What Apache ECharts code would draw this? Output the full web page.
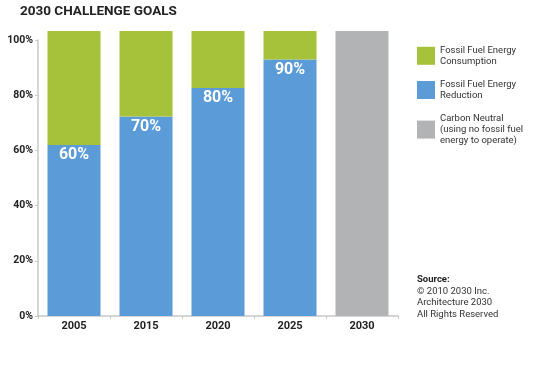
<!DOCTYPE html>
<html>
<head>
<meta charset="utf-8">
<script src="https://cdn.jsdelivr.net/npm/echarts@6/dist/echarts.min.js"></script>
<style>html,body{margin:0;padding:0;background:#fff;}#chart{width:540px;height:366px;}</style>
</head>
<body>
<div id="chart"></div>
<script>
const categories = ['2005', '2015', '2020', '2025', '2030'];
const reduction = [60, 70, 80, 90, null];
const consumption = [40, 30, 20, 10, null];
const carbonNeutral = [null, null, null, null, 100];
const yTicks = [0, 20, 40, 60, 80, 100];
const seriesNames = ['Fossil Fuel Energy\nConsumption', 'Fossil Fuel Energy\nReduction', 'Carbon Neutral\n(using no fossil fuel\nenergy to operate)'];
const sourceLines = ['Source:', '© 2010 2030 Inc.', 'Architecture 2030', 'All Rights Reserved'];

const FONT = 'Roboto';
const chart = echarts.init(document.getElementById('chart'), null, {renderer: 'canvas'});
chart.setOption({
  animation: false,
  backgroundColor: '#fff',
  title: {
    text: '2030 CHALLENGE GOALS',
    left: 15, top: 0,
    textStyle: {fontFamily: FONT, fontWeight: 'bold', fontSize: 13.5, color: '#222'}
  },
  legend: {
    orient: 'vertical',
    left: 412, top: 40,
    itemWidth: 18, itemHeight: 18, itemGap: 12.6,
    icon: 'rect',
    selectedMode: false,
    data: seriesNames,
    textStyle: {fontFamily: FONT, fontSize: 9.5, lineHeight: 10.8, color: '#333'}
  },
  grid: [
    {left: 38, right: 142, top: 31, bottom: 50},
    {left: 38, right: 142, top: 40, bottom: 50}
  ],
  xAxis: [
    {
      type: 'category', gridIndex: 0, data: categories,
      axisLine: {lineStyle: {color: '#c8c8c8', width: 1.5}},
      axisTick: {show: true, length: 3, lineStyle: {color: '#c8c8c8'}},
      axisLabel: {fontFamily: FONT, fontWeight: 'bold', fontSize: 11, color: '#222', margin: 5}
    },
    {type: 'value', gridIndex: 1, min: 0, max: 1, show: false}
  ],
  yAxis: [
    {type: 'value', gridIndex: 0, min: 0, max: 100, show: false},
    {
      type: 'value', gridIndex: 1, min: 0, max: 100, interval: 20,
      axisLine: {show: true, lineStyle: {color: '#c8c8c8', width: 1.5}},
      axisTick: {show: true, length: 3, lineStyle: {color: '#c8c8c8'}},
      splitLine: {show: false},
      axisLabel: {
        fontFamily: FONT, fontWeight: 'bold', fontSize: 10.5, color: '#222', margin: 5,
        formatter: v => yTicks.includes(v) ? v + '%' : ''
      }
    }
  ],
  series: [
    {
      name: seriesNames[1], type: 'bar', stack: 'a', data: reduction,
      xAxisIndex: 0, yAxisIndex: 0, barWidth: 53,
      itemStyle: {color: '#5b9bd8'},
      label: {
        show: true, position: 'insideTop', distance: 2,
        formatter: p => p.value + '%',
        fontFamily: FONT, fontWeight: 'bold', fontSize: 16, color: '#fff'
      }
    },
    {
      name: seriesNames[0], type: 'bar', stack: 'a', data: consumption,
      xAxisIndex: 0, yAxisIndex: 0, barWidth: 53,
      itemStyle: {color: '#a6c23a'}
    },
    {
      name: seriesNames[2], type: 'bar', stack: 'a', data: carbonNeutral,
      xAxisIndex: 0, yAxisIndex: 0, barWidth: 53,
      itemStyle: {color: '#b2b3b4'}
    }
  ],
  graphic: [{
    type: 'text', left: 417, top: 274,
    style: {
      text: '{b|' + sourceLines[0] + '}\n' + sourceLines.slice(1).join('\n'),
      fontFamily: FONT, fontSize: 9.5, lineHeight: 11.5, fill: '#333',
      rich: {b: {fontFamily: FONT, fontWeight: 'bold', fontSize: 9.5, lineHeight: 11.5, fill: '#222'}}
    }
  }]
});
</script>
</body>
</html>
